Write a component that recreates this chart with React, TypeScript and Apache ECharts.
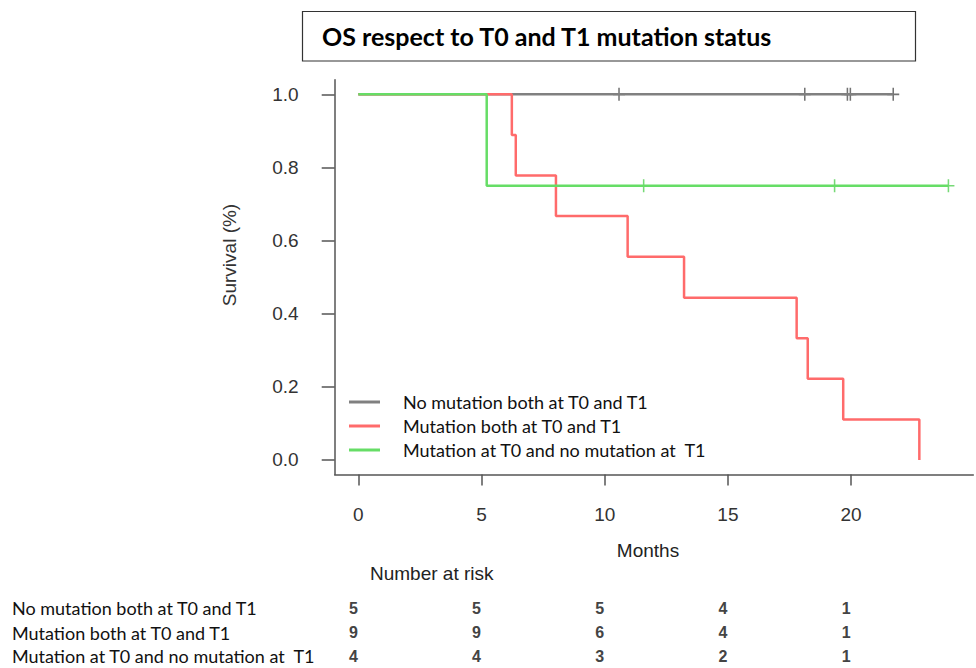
import React, { useEffect, useRef } from 'react';
import * as echarts from 'echarts';

const titleText = 'OS respect to T0 and T1 mutation status';
const groupNames = [
  'No mutation both at T0 and T1',
  'Mutation both at T0 and T1',
  'Mutation at T0 and no mutation at  T1',
];
const groupColors = ['#808080', '#ff6b6b', '#66dd66'];
const censorColors = ['#505050', '#ff6b6b', '#55d055'];

const grayTimes = [0, 21.71];
const graySurv = [1, 1];
const grayCensorTimes = [10.58, 18.12, 19.85, 19.97, 21.71];
const grayCensorSurv = [1, 1, 1, 1, 1];

const redTimes = [0, 6.23, 6.39, 8.02, 10.93, 13.22, 17.79, 18.24, 19.68, 22.77];
const redSurv = [1, 0.889, 0.778, 0.667, 0.556, 0.444, 0.333, 0.222, 0.111, 0];

const greenTimes = [0, 5.21, 23.95];
const greenSurv = [1, 0.75, 0.75];
const greenCensorTimes = [11.58, 19.33, 23.95];
const greenCensorSurv = [0.75, 0.75, 0.75];

const xTicks = [0, 5, 10, 15, 20];
const yTicks = [0, 0.2, 0.4, 0.6, 0.8, 1.0];

const riskTimes = [0, 5, 10, 15, 20];
const riskGray = [5, 5, 5, 4, 1];
const riskRed = [9, 9, 6, 4, 1];
const riskGreen = [4, 4, 3, 2, 1];

const X_MIN = -0.96;
const X_MAX = 24.96;
const Y_MIN = -0.04;
const Y_MAX = 1.04;
const GRID = { left: 334.7, top: 79.7, width: 638.6, height: 394.9 };

const pair = (xs: number[], ys: number[]) => xs.map((x, i) => [x, ys[i]]);
const px = (t: number) => GRID.left + ((t - X_MIN) / (X_MAX - X_MIN)) * GRID.width;

const plusSymbol = 'path://M6,0L6,13M0,6.5L12,6.5';

export default function App() {
  const ref = useRef<HTMLDivElement>(null);
  useEffect(() => {
    if (!ref.current) return;
    const chart = echarts.init(ref.current, null, { renderer: 'svg' });
    const arial = 'Liberation Sans, Arial, sans-serif';
    const calibri = 'Lato, Noto Sans, sans-serif';

    const riskRows = [riskGray, riskRed, riskGreen];
    const rowY = [608, 632.5, 656];
    const graphics: any[] = [
      {
        type: 'rect',
        shape: { x: 302.5, y: 11.5, width: 613, height: 49.5 },
        style: { fill: '#fff', stroke: '#333', lineWidth: 1.2 },
        z: -1,
      },
      {
        type: 'text',
        x: 229,
        y: 255,
        rotation: Math.PI / 2,
        style: {
          text: 'Survival (%)',
          font: `19px ${arial}`,
          fill: '#333',
          align: 'center',
          verticalAlign: 'middle',
        },
      },
      {
        type: 'text',
        x: 370,
        y: 573,
        style: {
          text: 'Number at risk',
          font: `19px ${arial}`,
          fill: '#222',
          align: 'left',
          verticalAlign: 'middle',
        },
      },
    ];
    groupNames.forEach((name, r) => {
      graphics.push({
        type: 'text',
        x: 12,
        y: rowY[r],
        style: {
          text: name,
          font: `18px ${calibri}`,
          fill: '#111',
          align: 'left',
          verticalAlign: 'middle',
        },
      });
      riskRows[r].forEach((n, c) => {
        graphics.push({
          type: 'text',
          x: px(riskTimes[c]) - 5,
          y: rowY[r],
          style: {
            text: String(n),
            font: `bold 16px ${arial}`,
            fill: '#444',
            align: 'center',
            verticalAlign: 'middle',
          },
        });
      });
    });

    const lineSeries = (name: string, data: number[][], color: string) => ({
      name,
      type: 'line',
      step: 'end',
      data,
      symbol: 'none',
      lineStyle: { color, width: 2.5 },
      itemStyle: { color },
    });
    const censorSeries = (data: number[][], color: string) => ({
      type: 'scatter',
      data,
      symbol: plusSymbol,
      symbolSize: [12, 13],
      itemStyle: { color: 'none', borderColor: color, borderWidth: 1.6 },
      silent: true,
    });

    chart.setOption({
      animation: false,
      title: {
        text: titleText,
        left: 317,
        top: 18,
        textStyle: { fontFamily: calibri, fontWeight: 'bold', fontSize: 25, color: '#000' },
      },
      grid: GRID,
      legend: {
        orient: 'vertical',
        left: 344,
        top: 387,
        itemWidth: 31,
        itemHeight: 3,
        itemGap: 4,
        icon: 'rect',
        data: groupNames,
        textStyle: {
          fontFamily: calibri,
          fontSize: 18,
          color: '#111',
          lineHeight: 20,
          padding: [0, 0, 0, 18],
        },
      },
      xAxis: {
        type: 'value',
        min: X_MIN,
        max: X_MAX,
        name: 'Months',
        nameLocation: 'middle',
        nameGap: 66,
        nameTextStyle: { fontFamily: arial, fontSize: 19, color: '#222', padding: [0, 12, 0, 0] },
        axisLine: { show: true, onZero: false, lineStyle: { color: '#555', width: 1.5 } },
        axisTick: { show: true, length: 11, customValues: xTicks, lineStyle: { color: '#555', width: 1.5 } },
        axisLabel: {
          customValues: xTicks,
          margin: 30,
          fontFamily: arial,
          fontSize: 19,
          color: '#333',
        },
        splitLine: { show: false },
      },
      yAxis: {
        type: 'value',
        min: Y_MIN,
        max: Y_MAX,
        axisLine: { show: true, onZero: false, lineStyle: { color: '#555', width: 1.5 } },
        axisTick: { show: true, length: 13, customValues: yTicks, lineStyle: { color: '#555', width: 1.5 } },
        axisLabel: {
          customValues: yTicks,
          margin: 36,
          fontFamily: arial,
          fontSize: 19,
          color: '#333',
          formatter: (v: number) => v.toFixed(1),
        },
        splitLine: { show: false },
      },
      graphic: graphics,
      series: [
        lineSeries(groupNames[0], pair(grayTimes, graySurv), groupColors[0]),
        censorSeries(pair(grayCensorTimes, grayCensorSurv), censorColors[0]),
        lineSeries(groupNames[1], pair(redTimes, redSurv), groupColors[1]),
        lineSeries(groupNames[2], pair(greenTimes, greenSurv), groupColors[2]),
        censorSeries(pair(greenCensorTimes, greenCensorSurv), censorColors[2]),
      ],
    });
    return () => chart.dispose();
  }, []);
  return (
    <div
      ref={ref}
      style={{ position: 'fixed', left: 0, top: 0, width: 976, height: 668, background: '#fff' }}
    />
  );
}
